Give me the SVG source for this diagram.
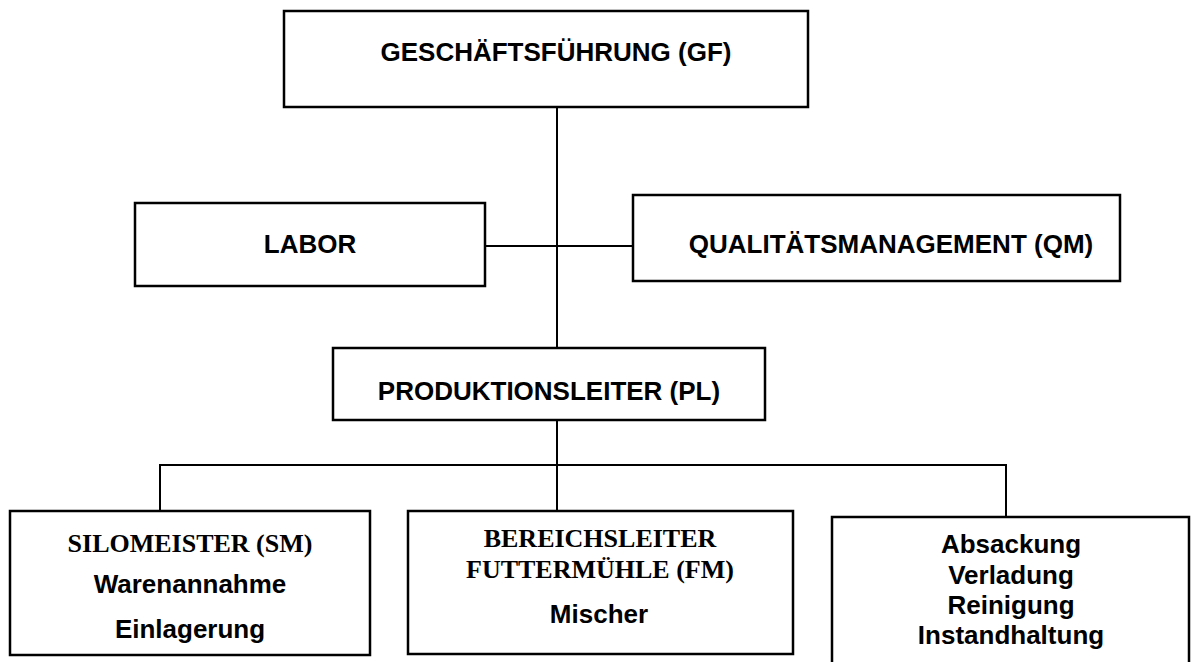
<svg xmlns="http://www.w3.org/2000/svg" width="1192" height="662" viewBox="0 0 1192 662">
<style>
.box{fill:#fff;stroke:#000;stroke-width:2.5}
.ln{fill:none;stroke:#000;stroke-width:2}
.a{font-family:"Liberation Sans",Arial,sans-serif;font-weight:bold;font-size:26px;fill:#000;text-anchor:middle}
.t{font-family:"Liberation Serif","Times New Roman",serif;font-weight:bold;font-size:26px;fill:#000;text-anchor:middle}
</style>
<rect width="1192" height="662" fill="#fff"/>
<g id="connectors">
<line class="ln" x1="557" y1="107" x2="557" y2="348"/>
<line class="ln" x1="485" y1="246" x2="633" y2="246"/>
<line class="ln" x1="557" y1="420" x2="557" y2="512"/>
<polyline class="ln" points="160,511 160,465 1006,465 1006,517"/>
</g>
<g id="gf">
<rect class="box" x="284" y="11" width="524" height="96"/>
<text class="a" x="556" y="61">GESCHÄFTSFÜHRUNG (GF)</text>
</g>
<g id="labor">
<rect class="box" x="135" y="203" width="350" height="83"/>
<text class="a" x="310" y="253">LABOR</text>
</g>
<g id="qm">
<rect class="box" x="633" y="195" width="487" height="86"/>
<text class="a" x="891" y="253">QUALITÄTSMANAGEMENT (QM)</text>
</g>
<g id="pl">
<rect class="box" x="333" y="348" width="432" height="72"/>
<text class="a" x="549" y="400">PRODUKTIONSLEITER (PL)</text>
</g>
<g id="sm">
<rect class="box" x="10" y="511" width="360" height="144"/>
<text class="t" x="190" y="552">SILOMEISTER (SM)</text>
<text class="a" x="190" y="593">Warenannahme</text>
<text class="a" x="190" y="638">Einlagerung</text>
</g>
<g id="fm">
<rect class="box" x="408" y="511" width="385" height="143"/>
<text class="t" x="600" y="547">BEREICHSLEITER</text>
<text class="t" x="600" y="578">FUTTERMÜHLE (FM)</text>
<text class="a" x="599" y="623">Mischer</text>
</g>
<g id="tasks">
<rect class="box" x="832" y="517" width="357" height="160"/>
<text class="a" x="1011" y="553">Absackung</text>
<text class="a" x="1011" y="584">Verladung</text>
<text class="a" x="1011" y="614">Reinigung</text>
<text class="a" x="1011" y="644">Instandhaltung</text>
</g>
</svg>
